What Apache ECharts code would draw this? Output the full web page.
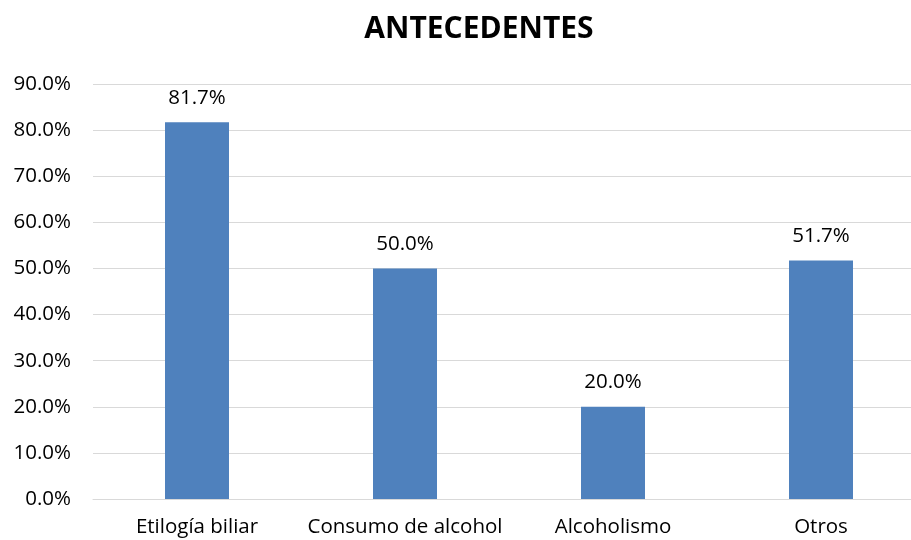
<!DOCTYPE html>
<html>
<head>
<meta charset="utf-8">
<script src="https://cdn.jsdelivr.net/npm/echarts@6/dist/echarts.min.js"></script>
<style>
  html, body { margin: 0; padding: 0; background: #fff; overflow: hidden; }
  #main { width: 925px; height: 540px; }
</style>
</head>
<body>
<div id="main"></div>
<script>
var categories = ['Etilogía biliar', 'Consumo de alcohol', 'Alcoholismo', 'Otros'];
var values = [81.7, 50.0, 20.0, 51.7];

var chart = echarts.init(document.getElementById('main'));
var font = '"Open Sans", Lato, sans-serif';
var option = {
    backgroundColor: '#fff',
    animation: false,
    title: {
        text: 'ANTECEDENTES',
        left: 474,
        top: 9,
        textAlign: 'center',
        textStyle: { fontFamily: font, fontSize: 30, fontWeight: 'bold', color: '#000' }
    },
    grid: { left: 93, top: 84, right: 0, bottom: 41, containLabel: false },
    xAxis: {
        type: 'category',
        data: categories,
        axisLine: { show: true, lineStyle: { color: '#d9d9d9', width: 1 } },
        axisTick: { show: false },
        axisLabel: { interval: 0, fontFamily: font, fontSize: 20.5, color: '#000', margin: 18 }
    },
    yAxis: {
        type: 'value',
        min: 0,
        max: 90,
        interval: 10,
        axisLine: { show: false },
        axisTick: { show: false },
        splitLine: { lineStyle: { color: '#d9d9d9', width: 1 } },
        axisLabel: {
            fontFamily: font, fontSize: 20.5, color: '#000', margin: 22,
            formatter: function (v) { return v.toFixed(1) + '%'; }
        }
    },
    series: [{
        type: 'bar',
        data: values,
        barWidth: 64,
        itemStyle: { color: '#4F81BD' },
        label: {
            show: true,
            position: 'top',
            distance: 14,
            fontFamily: font,
            fontSize: 20.5,
            color: '#000',
            formatter: function (p) { return p.value.toFixed(1) + '%'; }
        }
    }]
};
chart.setOption(option);
</script>
</body>
</html>
